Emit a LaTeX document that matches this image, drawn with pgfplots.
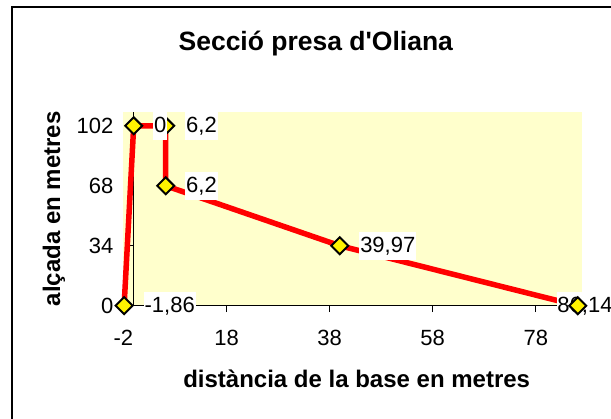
\documentclass[border=0pt]{standalone}
\usepackage{fontspec}
\setmainfont{Liberation Sans}
\usepackage{pgfplots}
\pgfplotsset{compat=1.18}
\definecolor{plotbg}{HTML}{FFFFCC}
\begin{document}
\begin{tikzpicture}[x=1pt,y=1pt]
\path[use as bounding box] (0,0) rectangle (611,419);
\draw[black, line width=1.6pt] (11.7,-10) -- (11.7,411.7) -- (630,411.7);
% background and vertical axis line at x=0
\begin{axis}[
  at={(123.4pt,113.3pt)}, anchor=south west,
  width=458.3pt, height=194pt, scale only axis,
  xmin=-2, xmax=86.9, ymin=0, ymax=110,
  axis background/.style={fill=plotbg},
  axis x line=none, axis y line=center,
  axis line style={-, black, line width=1pt},
  ytick={0,34,68,102}, yticklabels={},
  tick align=outside,
  major tick length=5pt,
  tick style={black, line width=1pt},
]
\end{axis}
\begin{axis}[
  at={(123.4pt,113.3pt)}, anchor=south west,
  width=458.3pt, height=194pt, scale only axis,
  xmin=-2, xmax=86.9, ymin=0, ymax=110,
  axis x line=bottom, axis y line=left,
  axis line style={-, black, line width=1pt},
  y axis line style={draw=none},
  xtick={-2,18,38,58,78}, ytick={0,34,68,102},
  tick align=outside,
  major tick length=6.5pt,
  tick style={black, line width=1pt},
  ytick style={draw=none},
  /pgf/number format/assume math mode=true,
  ticklabel style={font=\fontsize{22}{26}\selectfont},
  yticklabel style={anchor=east, xshift=0pt},
  xticklabel style={anchor=north, yshift=-14pt},
  title={Secció presa d\textquotesingle Oliana},
  every axis title/.style={at={(0.4198,1.3144)}, anchor=base},
  title style={font=\bfseries\fontsize{26.5}{30}\selectfont},
  xlabel={distància de la base en metres},
  every axis x label/.style={at={(0.509,-0.4216)}, anchor=base},
  xlabel style={font=\bfseries\fontsize{24}{28}\selectfont},
  ylabel={alçada en metres},
  every axis y label/.style={at={(-0.1514,0.5)}, rotate=90, anchor=center},
  ylabel style={font=\bfseries\fontsize{24}{28}\selectfont},
  clip=false,
  nodes near coords style={font=\fontsize{22}{26}\selectfont, text=black, fill=white, inner xsep=0.8pt, inner ysep=0pt, text height=20.5pt, text depth=7.3pt},
]
\addplot[red, line width=5.5pt, no markers] coordinates {(-1.86,0) (0,102) (6.2,102) (6.2,68) (39.97,34) (86.14,0)};
\addplot[draw=none, no markers, nodes near coords, point meta=explicit symbolic,
  nodes near coords style={anchor=west, xshift=-21.3pt}] table[meta=l, row sep=\\] {x y l\\ 86.14 0 86,14\\};
\addplot[only marks, mark=square*, mark size=6pt, mark options={rotate=45, fill=yellow, draw=black, line width=2pt}] coordinates {(-1.86,0) (0,102) (6.2,102) (6.2,68) (39.97,34) (86.14,0)};
\addplot[draw=none, no markers, nodes near coords, point meta=explicit symbolic,
  nodes near coords style={anchor=west, xshift=19.5pt}] table[meta=l, row sep=\\] {x y l\\ -1.86 0 -1,86\\ 0 102 0\\ 6.2 102 6,2\\ 6.2 68 6,2\\ 39.97 34 39,97\\};
\end{axis}
\end{tikzpicture}
\end{document}
